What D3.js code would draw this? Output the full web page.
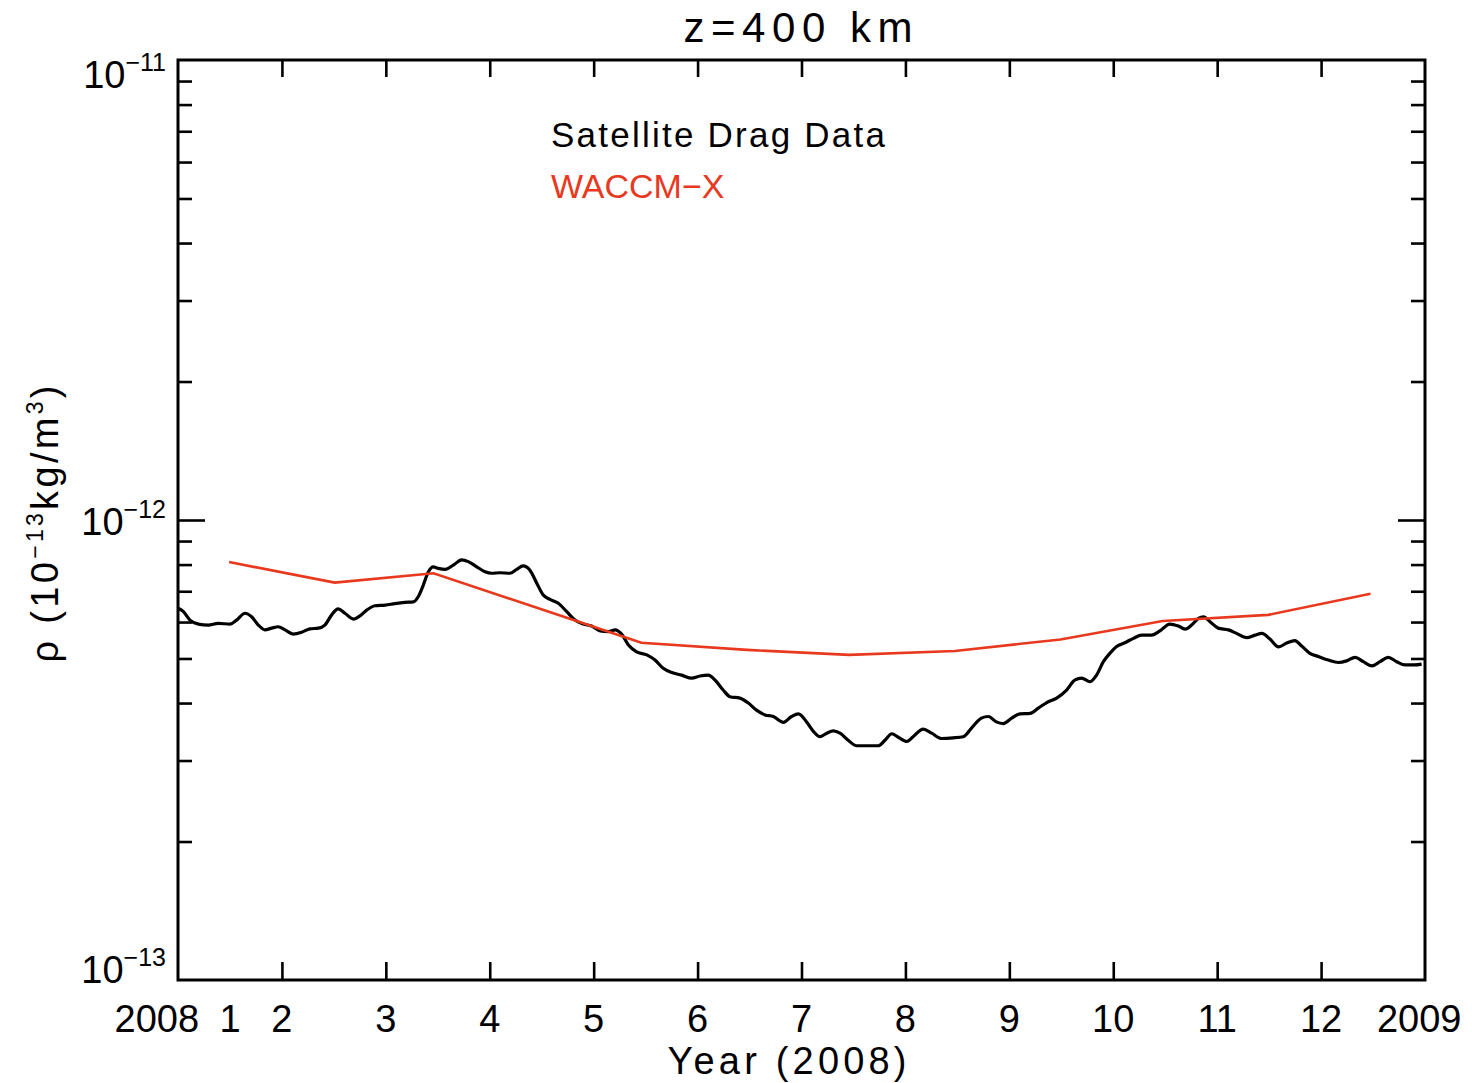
<!DOCTYPE html>
<html>
<head>
<meta charset="utf-8">
<script src="https://cdn.jsdelivr.net/npm/d3@7"></script>
<style>
  html, body { margin: 0; padding: 0; background: #fff; }
  text { font-family: "Liberation Sans", Arial, sans-serif; }
</style>
</head>
<body>
<svg id="chart" width="1472" height="1083"></svg>
<script>
// ---------------- DATA ----------------
// x: day of year 2008 (0..366); y: density in units of 1e-13 kg/m^3
const dragDays = [0,1.6,3.5,6,8.9,11.8,15.3,17.2,19.7,21.6,23.6,25.5,27.5,29.4,31.4,33.8,36.3,38.7,41.2,43.1,
  45.1,47,49,51.5,53.4,55.4,57.8,60.8,63.7,66.6,69.1,70.5,72,73.5,74.9,76.4,78.4,80.8,83.3,85.2,
  87.7,90.1,92.1,94.5,97.4,99.4,101.3,103.3,105.3,107.2,109.2,111.6,114.1,116.5,119,121.4,123.9,126.3,128.3,130.2,
  132.2,134.6,137.6,140,142.4,144.9,147.8,150.8,153.2,155.6,157.6,160,162,164.9,167.4,169.8,172.3,174.7,177.7,180.1,
  182.1,184.5,186.5,188.4,190.4,192.3,194.3,196.7,199.2,202.1,205.5,207.5,209.5,211.4,213.9,216.3,218.7,221.2,224.1,227.5,
  230.5,232.9,235.8,237.8,240.2,242.2,244.7,247.1,250.1,252.5,255,257.9,260.8,263.3,265.2,267.7,269.6,271.6,273.5,275.5,
  277.9,280.4,282.8,285.8,288.2,291.1,293.6,295.6,297.5,299.5,301,302.9,305.3,308.3,310.7,313.7,316.1,318.1,320.5,323,
  325.4,327.8,329.8,332.2,334.7,337.6,340.6,343,345.5,347.9,350.4,352.8,355.2,357.7,360.1,363,365];
const dragValues = [6.43,6.32,6.06,5.94,5.91,5.96,5.94,6.06,6.27,6.16,5.91,5.77,5.82,5.86,5.77,5.65,5.70,5.80,5.82,5.91,
  6.22,6.41,6.27,6.09,6.19,6.37,6.51,6.53,6.58,6.62,6.64,6.81,7.22,7.72,7.91,7.85,7.81,7.98,8.19,8.12,
  7.91,7.72,7.66,7.68,7.66,7.81,7.95,7.78,7.29,6.87,6.72,6.59,6.32,6.06,5.94,5.88,5.74,5.72,5.77,5.65,
  5.35,5.17,5.09,4.96,4.76,4.66,4.60,4.53,4.58,4.60,4.49,4.27,4.13,4.10,4.00,3.86,3.77,3.74,3.63,3.74,
  3.79,3.64,3.47,3.38,3.44,3.48,3.44,3.32,3.23,3.23,3.23,3.32,3.43,3.37,3.30,3.41,3.51,3.44,3.35,3.36,
  3.38,3.53,3.71,3.74,3.64,3.61,3.71,3.79,3.80,3.90,4.01,4.10,4.27,4.49,4.53,4.45,4.60,4.92,5.13,5.31,
  5.41,5.53,5.62,5.62,5.74,5.94,5.88,5.79,5.91,6.11,6.16,6.01,5.82,5.77,5.67,5.55,5.62,5.67,5.51,5.30,
  5.40,5.47,5.32,5.13,5.05,4.96,4.90,4.94,5.03,4.92,4.82,4.92,5.03,4.92,4.84,4.84,4.86];

const waccmDays   = [15, 46, 75, 106, 136, 167, 197, 228, 259, 289, 320, 350];
const waccmValues = [8.10, 7.31, 7.66, 6.42, 5.41, 5.22, 5.09, 5.19, 5.50, 6.03, 6.22, 6.91];

const xTickDays = [30.5, 61, 91.5, 122, 152.5, 183, 213.5, 244, 274.5, 305, 335.5];
const xLabelTexts = ["2008","1","2","3","4","5","6","7","8","9","10","11","12","2009"];
const xLabelDays  = [-6.2, 15.3, 30.5, 61, 91.5, 122, 152.5, 183, 213.5, 244, 274.5, 305, 335.5, 364.3];
const yMajor = [1, 10, 100];
const yMajorExp = ["−13", "−12", "−11"];

// ---------------- LAYOUT ----------------
const svg = d3.select("#chart");
const L = 178, R = 1425, T = 60, B = 980;
const x = d3.scaleLinear().domain([0, 366]).range([L, R]);
const y = d3.scaleLog().domain([1, 100]).range([B, T]);

const red = "#e8391f";

const minorVals = [];
[1, 10].forEach(dec => { for (let k = 2; k <= 9; k++) minorVals.push(dec * k); });

const g = svg.append("g");

const tickStyle = sel => {
  sel.select(".domain").remove();
  sel.selectAll(".tick line").attr("stroke", "#000").attr("stroke-width", 2.6);
  sel.selectAll(".tick text").remove();
};
g.append("g").attr("transform", `translate(0,${B})`)
  .call(d3.axisTop(x).tickValues(xTickDays).tickSize(18)).call(tickStyle);
g.append("g").attr("transform", `translate(0,${T})`)
  .call(d3.axisBottom(x).tickValues(xTickDays).tickSize(17)).call(tickStyle);
g.append("g").attr("transform", `translate(${L},0)`)
  .call(d3.axisRight(y).tickValues(minorVals).tickSize(14)).call(tickStyle);
g.append("g").attr("transform", `translate(${L},0)`)
  .call(d3.axisRight(y).tickValues([10]).tickSize(27)).call(tickStyle);
g.append("g").attr("transform", `translate(${R},0)`)
  .call(d3.axisLeft(y).tickValues(minorVals).tickSize(14)).call(tickStyle);
g.append("g").attr("transform", `translate(${R},0)`)
  .call(d3.axisLeft(y).tickValues([10]).tickSize(27)).call(tickStyle);

g.append("rect").attr("x", L).attr("y", T).attr("width", R - L).attr("height", B - T)
  .attr("fill", "none").attr("stroke", "#000").attr("stroke-width", 3);

// x tick labels
g.selectAll(".xlab").data(xLabelTexts).enter().append("text")
  .attr("x", (d, i) => x(xLabelDays[i]))
  .attr("y", 1032)
  .attr("text-anchor", "middle")
  .attr("font-size", 38)
  .text(d => d);

// y tick labels (IDL style: kept inside the axis span)
const yLabShift = [3, 15, 28];
yMajor.forEach((v, i) => {
  const t = g.append("text").attr("x", 166).attr("y", y(v) + yLabShift[i])
    .attr("text-anchor", "end").attr("font-size", 38);
  t.append("tspan").text("10");
  t.append("tspan").attr("dy", -17).attr("font-size", 25).text(yMajorExp[i]);
});

// lines
const line = d3.line().x(d => x(d[0])).y(d => y(d[1])).curve(d3.curveMonotoneX);
g.append("path").datum(dragDays.map((d, i) => [d, dragValues[i]]))
  .attr("d", line).attr("fill", "none").attr("stroke", "#000").attr("stroke-width", 3.2)
  .attr("stroke-linejoin", "round");
g.append("path").datum(waccmDays.map((d, i) => [d, waccmValues[i]]))
  .attr("d", d3.line().x(d => x(d[0])).y(d => y(d[1])))
  .attr("fill", "none").attr("stroke", red).attr("stroke-width", 2.6);

// title
svg.append("text").attr("x", 798).attr("y", 42).attr("text-anchor", "middle")
  .attr("font-size", 42).attr("textLength", 229).attr("lengthAdjust", "spacing")
  .text("z=400 km");

// x axis title
svg.append("text").attr("x", 787).attr("y", 1074).attr("text-anchor", "middle")
  .attr("font-size", 38).attr("textLength", 239).attr("lengthAdjust", "spacing")
  .text("Year (2008)");

// y axis title
const yt = svg.append("text").attr("transform", "translate(58,524) rotate(-90)")
  .attr("text-anchor", "middle").attr("font-size", 38)
  .attr("textLength", 277).attr("lengthAdjust", "spacing");
yt.append("tspan").text("ρ (10");
yt.append("tspan").attr("dy", -15).attr("font-size", 23).text("−13");
yt.append("tspan").attr("dy", 15).text("kg/m");
yt.append("tspan").attr("dy", -15).attr("font-size", 23).text("3");
yt.append("tspan").attr("dy", 15).text(")");

// legend
svg.append("text").attr("x", 551).attr("y", 147).attr("font-size", 35).attr("fill", "#000")
  .attr("textLength", 334).attr("lengthAdjust", "spacing")
  .text("Satellite Drag Data");
svg.append("text").attr("x", 551).attr("y", 198).attr("font-size", 34).attr("fill", red)
  .text("WACCM−X");
</script>
</body>
</html>
